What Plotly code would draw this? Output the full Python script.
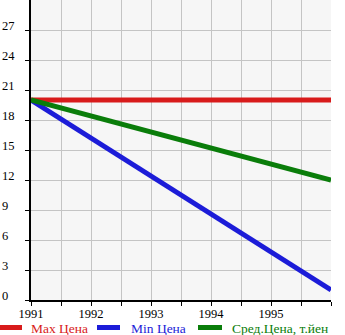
import plotly.graph_objects as go

years = [1991, 1996]
max_price = [20, 20]
min_price = [20, 1]
avg_price = [20, 12]
names = ["Max Цена", "Min Цена", "Сред.Цена, т.йен"]
colors = ["#d81b1b", "#1c1cd8", "#0a7d0a"]
x_tick_vals = [1991, 1992, 1993, 1994, 1995]
x_tick_text = ["1991", "1992", "1993", "1994", "1995"]
y_tick_vals = [0, 3, 6, 9, 12, 15, 18, 21, 24, 27]

W, H = 345, 335
L, R, T, B = 31, 14, 0, 35
PW, PH = W - L - R, H - T - B
FONT = "Liberation Serif"

fig = go.Figure()
for ys, n, c in zip([max_price, min_price, avg_price], names, colors):
    fig.add_trace(go.Scatter(x=years, y=ys, mode="lines", name=n,
                             line=dict(color=c, width=5), showlegend=False))

def px_x(p):
    return (p - L) / PW

def px_y(p):
    return (H - B - p) / PH

annotations = []
for v in y_tick_vals:
    annotations.append(dict(x=px_x(0), xref="paper", y=v, yref="y", text=str(v),
                            showarrow=False, xanchor="left", yanchor="middle",
                            yshift=4, font=dict(family=FONT, size=12.5, color="#000")))

shapes = []
leg = [(0, 22, 29), (97, 120, 129), (198, 222, 230)]
for (x0, x1, tx), n, c in zip(leg, names, colors):
    shapes.append(dict(type="line", xref="paper", yref="paper",
                       x0=px_x(x0), x1=px_x(x1), y0=px_y(327.5), y1=px_y(327.5),
                       line=dict(color=c, width=5)))
    annotations.append(dict(x=px_x(tx), xref="paper", y=px_y(328), yref="paper",
                            text=n, showarrow=False, xanchor="left", yanchor="middle",
                            font=dict(family=FONT, size=13.5, color=c)))

fig.update_layout(
    width=W, height=H, margin=dict(l=L, r=R, t=T, b=B, pad=0),
    paper_bgcolor="white", plot_bgcolor="#f6f6f6",
    font=dict(family=FONT, size=12.5, color="#000"),
    showlegend=False, annotations=annotations, shapes=shapes,
    xaxis=dict(range=[1991, 1996], tickvals=x_tick_vals, ticktext=x_tick_text,
               ticks="outside", ticklen=4, tickcolor="#000", showgrid=True,
               ticklabelstandoff=-3,
               gridcolor="#c4c4c4", gridwidth=1, showline=True, linecolor="#000",
               linewidth=2, zeroline=False,
               minor=dict(dtick=0.5, tick0=1991, ticks="outside", ticklen=4,
                          tickcolor="#000", showgrid=True, gridcolor="#c4c4c4")),
    yaxis=dict(range=[0, 30], tickvals=y_tick_vals, showticklabels=False,
               ticks="outside", ticklen=4, tickcolor="#000", showgrid=True,
               gridcolor="#c4c4c4", gridwidth=1, showline=True, linecolor="#000",
               linewidth=2, zeroline=False),
)
fig.write_html("out.html")
